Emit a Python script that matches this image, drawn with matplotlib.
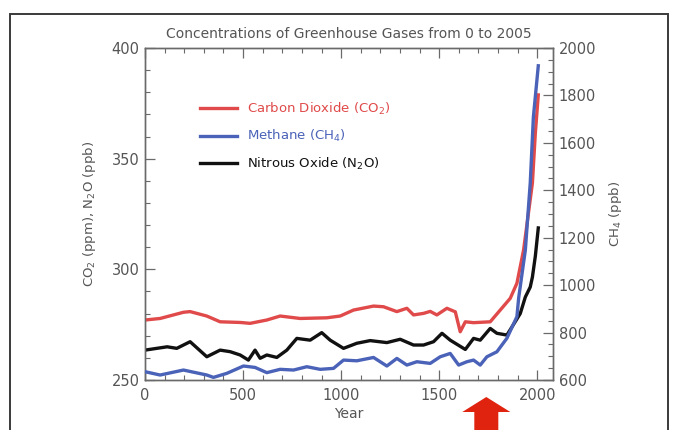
import matplotlib
matplotlib.use("Agg")
import matplotlib.pyplot as plt
from matplotlib.patches import Rectangle, Polygon
from matplotlib.ticker import MultipleLocator
from matplotlib.transforms import blended_transform_factory

# Carbon dioxide (ppm)
co2_year = [0, 77, 196, 230, 315, 383, 485, 536, 621, 689, 791, 927, 995, 1063,
            1165, 1216, 1284, 1335, 1369, 1420, 1454, 1488, 1539, 1582, 1607,
            1633, 1675, 1760, 1811, 1862, 1896, 1930, 1975, 1990, 2005]
co2_ppm = [277.1, 277.8, 280.6, 280.9, 278.9, 276.3, 276.0, 275.6, 277.1, 278.9,
           277.8, 278.1, 278.9, 281.6, 283.4, 283.1, 280.9, 282.4, 279.4, 280.1,
           281.0, 279.4, 282.4, 280.8, 271.8, 276.3, 275.9, 276.3, 281.6, 286.9,
           293.7, 308.7, 339.0, 361.6, 378.8]

# Methane (ppb)
ch4_year = [0, 77, 196, 315, 349, 417, 502, 561, 621, 689, 757, 825, 893, 961,
            1012, 1080, 1165, 1233, 1284, 1335, 1386, 1454, 1505, 1556, 1599,
            1641, 1675, 1709, 1743, 1794, 1845, 1896, 1905, 1939, 1964, 1980, 2005]
ch4_ppb = [635, 621, 642, 621, 611, 628, 659, 653, 631, 645, 642, 656, 645, 649,
           684, 681, 695, 659, 691, 663, 677, 670, 698, 712, 663, 677, 684, 663,
           698, 719, 776, 867, 946, 1148, 1431, 1709, 1925]

# Nitrous oxide (ppb)
n2o_year = [0, 60, 113, 162, 230, 315, 383, 434, 485, 527, 561, 587, 621, 672,
            723, 774, 842, 901, 944, 1012, 1080, 1148, 1233, 1301, 1369, 1420,
            1471, 1514, 1556, 1633, 1675, 1709, 1760, 1794, 1845, 1913, 1939,
            1964, 1975, 1990, 2005]
n2o_ppb = [263.5, 264.3, 265.0, 264.3, 267.3, 260.5, 263.5, 262.8, 261.3, 259.0,
           263.5, 259.8, 261.3, 260.2, 263.5, 268.8, 268.0, 271.4, 268.0, 264.3,
           266.6, 267.8, 266.9, 268.4, 265.8, 265.8, 267.3, 271.1, 268.0, 263.8,
           268.8, 268.0, 273.3, 271.1, 270.3, 280.0, 287.5, 292.0, 296.5, 306.0,
           318.7]

labels = ["Carbon Dioxide (CO$_2$)", "Methane (CH$_4$)", "Nitrous Oxide (N$_2$O)"]
colors = ["#e04a4a", "#4a62b8", "#111111"]
text_gray = "#555555"
axis_gray = "#6a6a6a"

W, H = 681, 430
fig = plt.figure(figsize=(W / 100, H / 100), dpi=100)
fig.patch.set_facecolor("white")

# outer frame around the figure
fig.patches.append(Rectangle((10 / W, -0.05), 658 / W, 1.05 - 14 / H,
                             transform=fig.transFigure, fill=False,
                             edgecolor="#3a3a3a", linewidth=1.4))

left, right, top, bottom = 145, 553, 48, 380
ax = fig.add_axes([left / W, 1 - bottom / H, (right - left) / W, (bottom - top) / H])
ax2 = ax.twinx()

lw = 2.4
l1, = ax.plot(co2_year, co2_ppm, color=colors[0], lw=lw, label=labels[0],
              solid_joinstyle="round", zorder=3)
l3, = ax.plot(n2o_year, n2o_ppb, color=colors[2], lw=lw, label=labels[2],
              solid_joinstyle="round", zorder=3)
l2, = ax2.plot(ch4_year, ch4_ppb, color=colors[1], lw=lw, label=labels[1],
               solid_joinstyle="round", zorder=3)

ax.set_xlim(0, 2080)
ax.set_ylim(250, 400)
ax2.set_ylim(600, 2000)

ax.xaxis.set_major_locator(MultipleLocator(500))
ax.xaxis.set_minor_locator(MultipleLocator(100))
ax.yaxis.set_major_locator(MultipleLocator(50))
ax.yaxis.set_minor_locator(MultipleLocator(10))
ax2.yaxis.set_major_locator(MultipleLocator(200))
ax2.yaxis.set_minor_locator(MultipleLocator(50))

for a in (ax, ax2):
    for s in a.spines.values():
        s.set_color(axis_gray)
        s.set_linewidth(1.0)

ax.tick_params(axis="x", which="both", direction="in", top=True, bottom=True,
               colors=axis_gray, labelcolor=text_gray, labelsize=10.5, pad=6)
ax.tick_params(axis="y", which="both", direction="in", left=True, right=False,
               colors=axis_gray, labelcolor=text_gray, labelsize=10.5, pad=4)
ax2.tick_params(axis="y", which="both", direction="in", right=True,
                colors=axis_gray, labelcolor=text_gray, labelsize=10.5, pad=4)
for a in (ax, ax2):
    a.tick_params(which="major", length=7, width=0.9)
    a.tick_params(which="minor", length=3.5, width=0.8)

ax.set_title("Concentrations of Greenhouse Gases from 0 to 2005",
             fontsize=10, color=text_gray, pad=7)
ax.set_xlabel("Year", fontsize=10, color=text_gray, labelpad=3)
ax.set_ylabel("CO$_2$ (ppm), N$_2$O (ppb)", fontsize=9.5, color=text_gray,
              labelpad=10)
ax2.set_ylabel("CH$_4$ (ppb)", fontsize=9.5, color=text_gray, rotation=90,
               labelpad=8)

leg = ax2.legend([l1, l2, l3], labels, loc="upper left",
                 bbox_to_anchor=((200 - left) / (right - left),
                                 (bottom - 101) / (bottom - top)),
                 frameon=False, fontsize=9.5, handlelength=2.8,
                 handletextpad=0.75, labelspacing=0.85, borderaxespad=0,
                 borderpad=0)
for txt, c in zip(leg.get_texts(), colors):
    txt.set_color(c)

# red upward arrow below the time axis
tr = blended_transform_factory(ax.transData, fig.transFigure)
arrow_year = 1740
hx = 24 * 2080 / (right - left)
sx = 12 * 2080 / (right - left)
tip_y, base_y = 1 - 397 / H, 1 - 412 / H
pts = [(arrow_year, tip_y), (arrow_year + hx, base_y), (arrow_year + sx, base_y),
       (arrow_year + sx, -0.02), (arrow_year - sx, -0.02),
       (arrow_year - sx, base_y), (arrow_year - hx, base_y)]
fig.patches.append(Polygon(pts, closed=True, transform=tr, facecolor="#e0230f",
                           edgecolor="none"))

fig.savefig("out.png", dpi=100)
